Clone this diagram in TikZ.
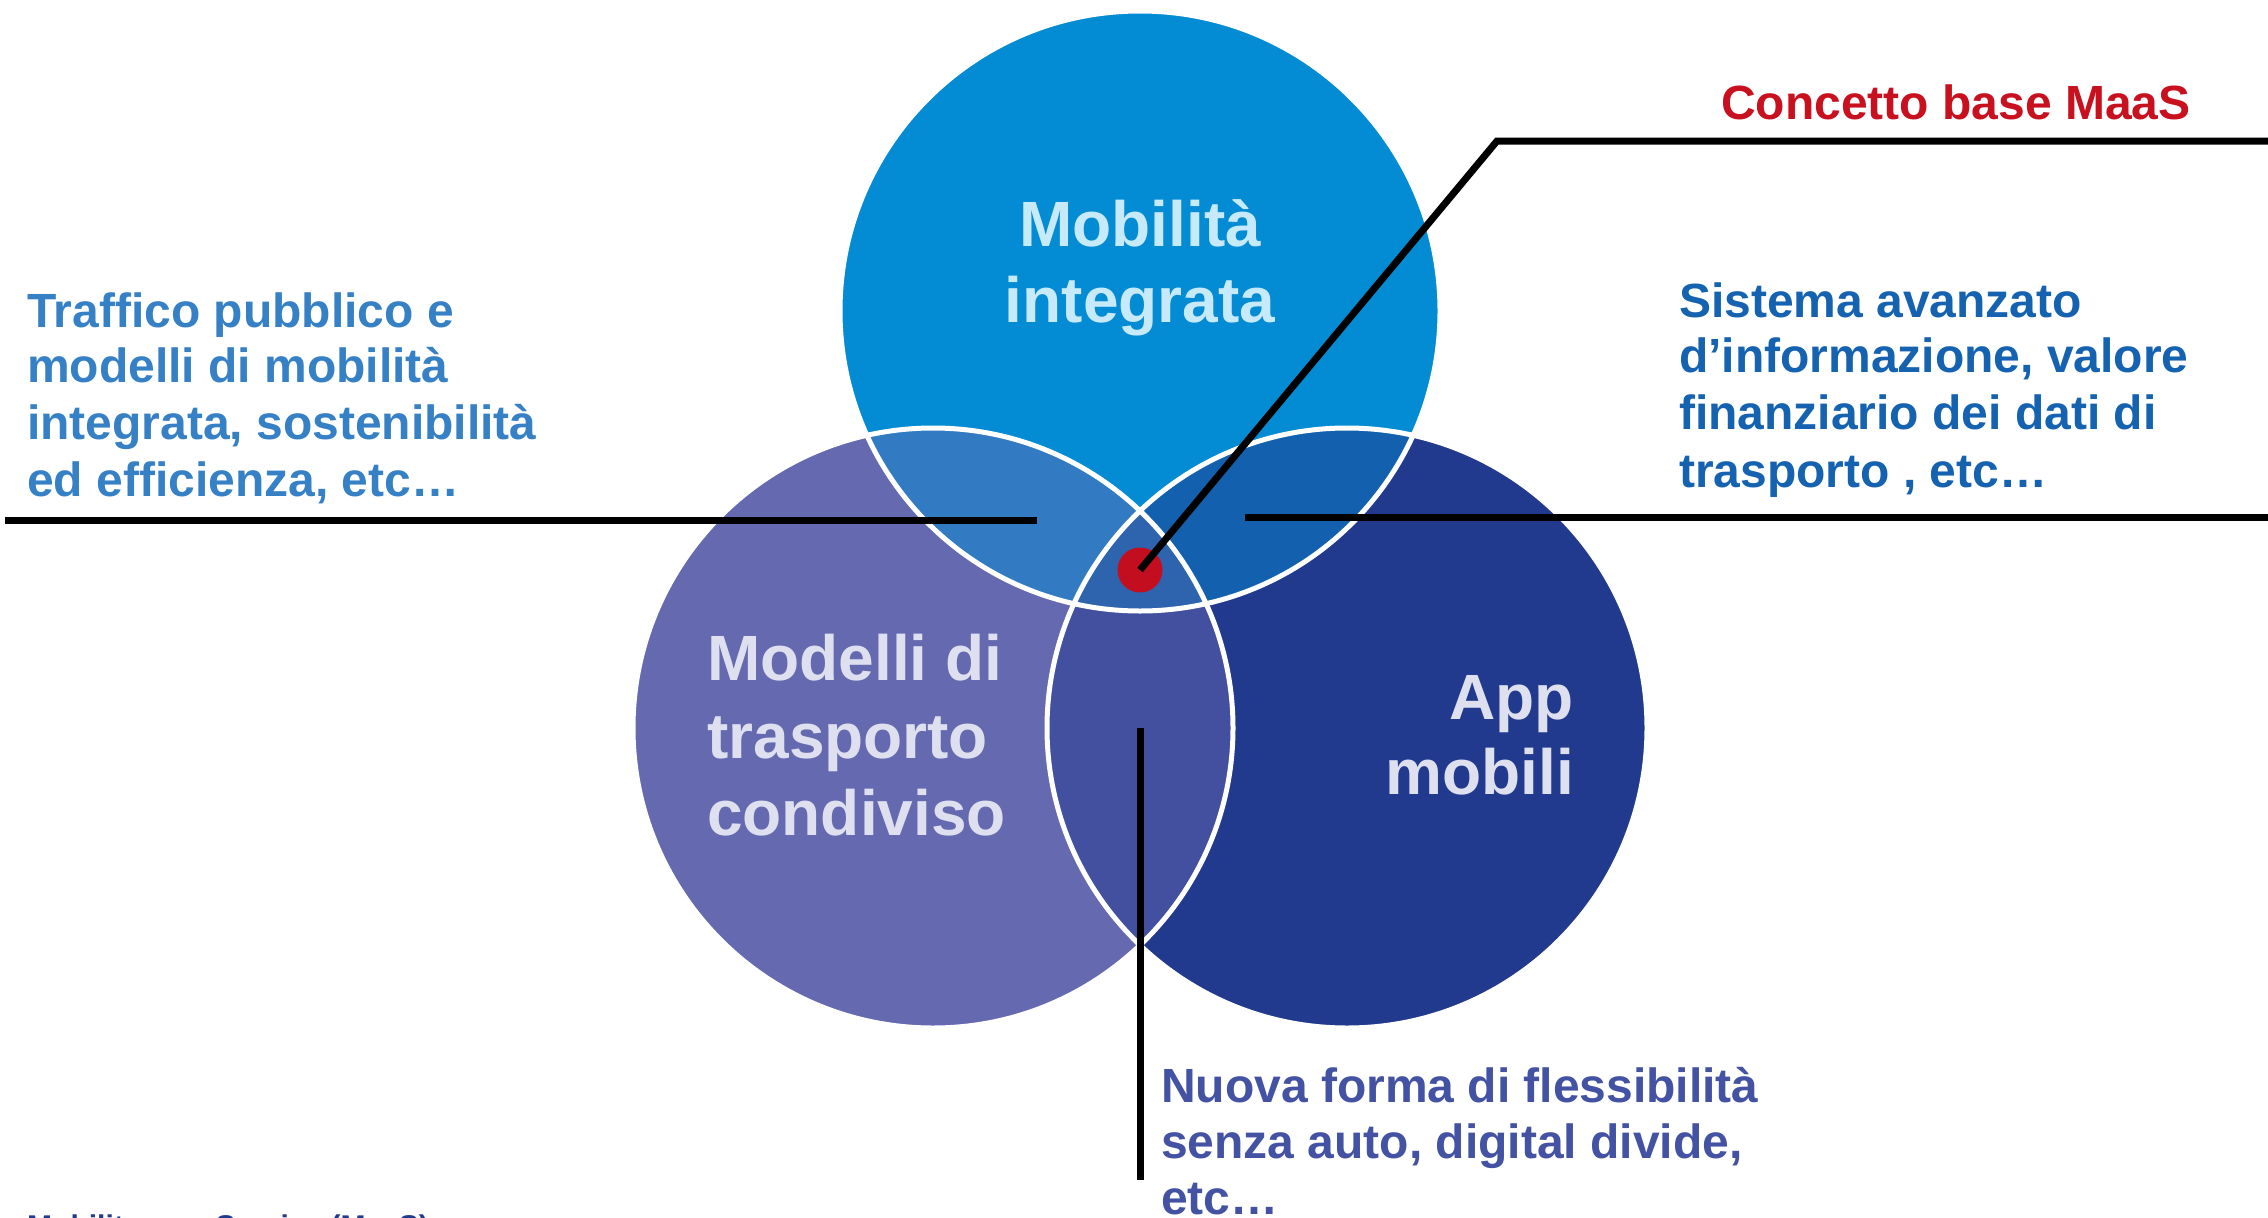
\documentclass[tikz,border=0pt]{standalone}
\usepackage{fontspec}
\setmainfont{Liberation Sans}
\definecolor{cT}{RGB}{3,139,211}
\definecolor{cL}{RGB}{101,105,175}
\definecolor{cR}{RGB}{34,58,142}
\definecolor{cTL}{RGB}{50,123,194}
\definecolor{cTR}{RGB}{19,97,174}
\definecolor{cLR}{RGB}{67,80,159}
\definecolor{cC}{RGB}{46,99,173}
\definecolor{cRed}{RGB}{194,14,31}
\definecolor{tLeft}{RGB}{54,128,198}
\definecolor{tRight}{RGB}{20,98,176}
\definecolor{tBot}{RGB}{67,82,162}
\definecolor{tRed}{RGB}{200,16,31}
\definecolor{tMob}{RGB}{199,234,251}
\definecolor{tMod}{RGB}{222,224,239}
\definecolor{tNote}{RGB}{34,58,142}
\tikzset{
  side/.style={inner sep=0pt, anchor=base west, font=\bfseries\fontsize{48}{56}\selectfont},
  big/.style={inner sep=0pt, font=\bfseries\fontsize{64}{76}\selectfont},
  leader/.style={black, line width=7pt},
  rim/.style={white, line width=5pt}
}
\begin{document}
\begin{tikzpicture}[x=1pt,y=-1pt]
\useasboundingbox (0,0) rectangle (2268,1218);
\coordinate (T) at (1140,311);
\coordinate (L) at (933,728);
\coordinate (R) at (1347,728);
% circles
\fill[cT] (T) circle (300pt);
\fill[cL] (L) circle (300pt);
\fill[cR] (R) circle (300pt);
\begin{scope}
  \clip (T) circle (300pt);
  \fill[cTL] (L) circle (300pt);
  \fill[cTR] (R) circle (300pt);
\end{scope}
\begin{scope}
  \clip (L) circle (300pt);
  \fill[cLR] (R) circle (300pt);
\end{scope}
\begin{scope}
  \clip (T) circle (300pt);
  \clip (L) circle (300pt);
  \fill[cC] (R) circle (300pt);
\end{scope}
\draw[rim] (T) circle (300pt);
\draw[rim] (L) circle (300pt);
\draw[rim] (R) circle (300pt);
% circle labels
\node[big, text=tMob, anchor=base] (m1) at (1140,246) {Mobilità};
\node[big, text=tMob, anchor=base] (m2) at (1140,322) {integrata};
\node[big, text=tMod, anchor=base west] (d1) at (707,680) {Modelli di};
\node[big, text=tMod, anchor=base west] (d2) at (707,758) {trasporto};
\node[big, text=tMod, anchor=base west] (d3) at (707,835) {condiviso};
\node[big, text=tMod, anchor=base east] (a1) at (1574,719) {App};
\node[big, text=tMod, anchor=base east] (a2) at (1574,794) {mobili};
% red dot
\node[circle, fill=cRed, inner sep=0pt, minimum size=45pt] (dot) at (1140,570) {};
% leaders
\coordinate (lA) at (5,520);
\coordinate (lB) at (1037,520);
\coordinate (rA) at (1245,517);
\coordinate (rB) at (2268,517);
\coordinate (kA) at (1497,141);
\coordinate (kB) at (2268,141);
\coordinate (vA) at (1140,728);
\coordinate (vB) at (1140,1180);
\draw[leader] (lA) -- (lB);
\draw[leader] (rA) -- (rB);
\draw[leader] (dot.center) -- (kA) -- (kB);
\draw[leader] (vA) -- (vB);
% side texts
\node[side, text=tLeft] (t1) at (27,327) {Traffico pubblico e};
\node[side, text=tLeft] (t2) at (27,382) {modelli di mobilità};
\node[side, text=tLeft] (t3) at (27,439) {integrata, sostenibilità};
\node[side, text=tLeft] (t4) at (27,496) {ed efficienza, etc…};
\node[side, text=tRight] (s1) at (1679,317) {Sistema avanzato};
\node[side, text=tRight] (s2) at (1679,372) {d’informazione, valore};
\node[side, text=tRight] (s3) at (1679,429) {finanziario dei dati di};
\node[side, text=tRight] (s4) at (1679,487) {trasporto , etc…};
\node[side, text=tBot] (b1) at (1161,1102) {Nuova forma di flessibilità};
\node[side, text=tBot] (b2) at (1161,1158) {senza auto, digital divide,};
\node[side, text=tBot] (b3) at (1161,1214) {etc…};
\node[side, text=tRed] (c1) at (1721,119) {Concetto base MaaS};
\node[inner sep=0pt, anchor=base west, text=tNote, font=\bfseries\fontsize{30}{36}\selectfont] (note) at (27,1236) {Mobility as a Service (MaaS)};
\end{tikzpicture}
\end{document}
